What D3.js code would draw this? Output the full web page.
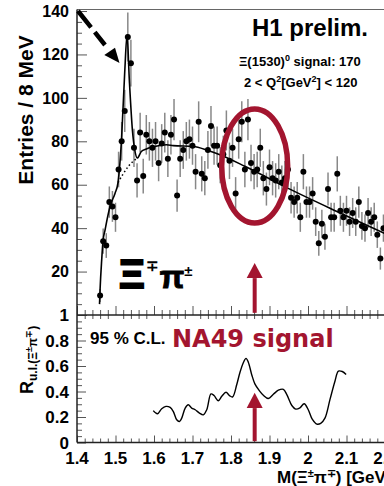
<!DOCTYPE html>
<html><head><meta charset="utf-8">
<script src="https://cdn.jsdelivr.net/npm/d3@7"></script>
<style>
body{margin:0;background:#fff}
svg{display:block}
text{font-family:"Liberation Sans",Arial,Helvetica,sans-serif;font-weight:bold}
</style></head><body>
<svg id="c" width="384" height="486"></svg>
<script>
// ---------- data ----------
const binMass = [1.460,1.468,1.476,1.484,1.492,1.500,1.508,1.516,1.524,1.532,
1.540,1.548,1.556,1.564,1.572,1.580,1.588,1.596,1.604,1.612,
1.620,1.628,1.636,1.644,1.652,1.660,1.668,1.676,1.684,1.692,
1.700,1.708,1.716,1.724,1.732,1.740,1.748,1.756,1.764,1.772,
1.780,1.788,1.796,1.804,1.812,1.820,1.828,1.836,1.844,1.852,
1.860,1.868,1.876,1.884,1.892,1.900,1.908,1.916,1.924,1.932,
1.940,1.948,1.956,1.964,1.972,1.980,1.988,1.996,2.004,2.012,
2.020,2.028,2.036,2.044,2.052,2.060,2.068,2.076,2.084,2.092,
2.100,2.108,2.116,2.124,2.132,2.140,2.148,2.156,2.164,2.172,
2.180,2.188,2.196];
const entries = [9,34,32,52,50,45,67,80,94,128,
116,77,62,84,64,83,80,77,80,70,
79,84,72,83,90,55,72,76,80,81,
78,66,89,65,63,76,87,78,78,69,
74,85,71,77,56,81,89,67,90,70,
66,67,77,63,58,68,63,62,66,61,
63,67,54,52,54,45,66,52,52,56,
43,33,42,36,58,45,45,65,48,45,
48,43,47,43,52,41,40,47,43,45,
37,26,40];
const entryErr = [3.0,5.8,5.7,7.2,7.1,6.7,8.2,8.9,9.7,11.3,
10.8,8.8,7.9,9.2,8.0,9.1,8.9,8.8,8.9,8.4,
8.9,9.2,8.5,9.1,9.5,7.4,8.5,8.7,8.9,9.0,
8.8,8.1,9.4,8.1,7.9,8.7,9.3,8.8,8.8,8.3,
8.6,9.2,8.4,8.8,7.5,9.0,9.4,8.2,9.5,8.4,
8.1,8.2,8.8,7.9,7.6,8.2,7.9,7.9,8.1,7.8,
7.9,8.2,7.3,7.2,7.3,6.7,8.1,7.2,7.2,7.5,
6.6,5.7,6.5,6.0,7.6,6.7,6.7,8.1,6.9,6.7,
6.9,6.6,6.9,6.6,7.2,6.4,6.3,6.9,6.6,6.7,
6.1,5.1,6.3];

// fit: signal + background (solid), background under the peak (dotted)
const fitMass = [1.4585,1.4600,1.4642,1.4675,1.4727,1.4805,1.4857,1.4987,1.5065,1.5160,1.5240,1.5300,1.5360,1.5440,1.5500,1.5566,1.5670,1.5800,1.6020,1.6320,1.6500,1.7020,1.7370,1.7710,1.8360,1.9500,2.0750,2.2000];
const fitVal  = [5,12,25.5,34,39,46,50,56,61,82,112,129,108,85,76,72.3,75.3,76.5,77.6,78.4,78,77.6,76,73.8,68.5,58.2,47.7,37.5];
const bgMass = [1.5065,1.5200,1.5350,1.5566];
const bgVal  = [61,65,68.8,72.3];

// upper limit curve (lower panel)
const ulMass = [1.598,1.609,1.620,1.631,1.642,1.650,1.659,1.666,1.672,1.681,1.689,1.698,1.707,1.718,1.728,1.737,1.748,1.756,1.767,1.776,1.787,1.796,1.804,1.815,1.823,1.832,1.839,1.845,1.854,1.862,1.874,1.884,1.897,1.910,1.923,1.936,1.945,1.958,1.968,1.979,1.990,2.001,2.011,2.023,2.033,2.044,2.057,2.070,2.079,2.089,2.099];
const ulVal  = [0.25,0.225,0.265,0.283,0.275,0.244,0.178,0.165,0.191,0.27,0.296,0.27,0.257,0.231,0.217,0.257,0.381,0.368,0.328,0.362,0.394,0.368,0.357,0.455,0.547,0.626,0.66,0.63,0.53,0.46,0.405,0.37,0.345,0.378,0.41,0.417,0.375,0.29,0.262,0.272,0.304,0.255,0.183,0.144,0.15,0.191,0.336,0.48,0.56,0.557,0.534];

// ticks
const topMajor = [0,20,40,60,80,100,120,140];
const topMinor = [5,10,15,25,30,35,45,50,55,65,70,75,85,90,95,105,110,115,125,130,135];
const botMajor = [0,0.2,0.4,0.6,0.8,1];
const botLabels = ["0","0.2","0.4","0.6","0.8","1"];
const botMinor = [0.05,0.1,0.15,0.25,0.3,0.35,0.45,0.5,0.55,0.65,0.7,0.75,0.85,0.9,0.95];
const xMajor = [1.4,1.5,1.6,1.7,1.8,1.9,2.0,2.1,2.2];
const xLabels = ["1.4","1.5","1.6","1.7","1.8","1.9","2","2.1","2.2"];
const xMinor = [1.42,1.44,1.46,1.48,1.52,1.54,1.56,1.58,1.62,1.64,1.66,1.68,1.72,1.74,1.76,1.78,1.82,1.84,1.86,1.88,1.92,1.94,1.96,1.98,2.02,2.04,2.06,2.08,2.12,2.14,2.16,2.18];

// ---------- drawing ----------
const RED = "#a3152f";
const svg = d3.select("#c");
svg.append("rect").attr("width",384).attr("height",486).attr("fill","#fff");

const x = d3.scaleLinear().domain([1.4,2.2]).range([77,385]);
const yT = d3.scaleLinear().domain([0,140.7]).range([315,9.5]);
const yB = d3.scaleLinear().domain([0,1]).range([442.5,315]);

function tickAxis(g, axis){ g.call(axis); g.select(".domain").remove(); g.selectAll("text").remove(); g.selectAll("line").attr("stroke","#555").attr("stroke-width",1); }

// top panel frame
svg.append("line").attr("x1",77).attr("x2",385).attr("y1",9.5).attr("y2",9.5).attr("stroke","#666").attr("stroke-width",1);
// top panel axes ticks
tickAxis(svg.append("g").attr("transform","translate(77,0)"), d3.axisLeft(yT).tickValues(topMajor).tickSize(-10));
tickAxis(svg.append("g").attr("transform","translate(77,0)"), d3.axisLeft(yT).tickValues(topMinor).tickSize(-5));
tickAxis(svg.append("g").attr("transform","translate(0,315)"), d3.axisBottom(x).tickValues(xMajor).tickSize(-9));
tickAxis(svg.append("g").attr("transform","translate(0,315)"), d3.axisBottom(x).tickValues(xMinor).tickSize(-5));
// bottom panel axes ticks
tickAxis(svg.append("g").attr("transform","translate(77,0)"), d3.axisLeft(yB).tickValues(botMajor).tickSize(-9));
tickAxis(svg.append("g").attr("transform","translate(77,0)"), d3.axisLeft(yB).tickValues(botMinor).tickSize(-5));
tickAxis(svg.append("g").attr("transform","translate(0,442.5)"), d3.axisBottom(x).tickValues(xMajor).tickSize(-7));
tickAxis(svg.append("g").attr("transform","translate(0,442.5)"), d3.axisBottom(x).tickValues(xMinor).tickSize(-4));
tickAxis(svg.append("g").attr("transform","translate(0,315)"), d3.axisBottom(x).tickValues(xMinor).tickSize(4));

// axis lines
svg.append("line").attr("x1",77).attr("x2",77).attr("y1",9.5).attr("y2",442.5).attr("stroke","#222").attr("stroke-width",1.5);
svg.append("line").attr("x1",77).attr("x2",385).attr("y1",315).attr("y2",315).attr("stroke","#222").attr("stroke-width",1.5);
svg.append("line").attr("x1",77).attr("x2",385).attr("y1",442.5).attr("y2",442.5).attr("stroke","#222").attr("stroke-width",1.5);

// tick labels
svg.append("g").selectAll("text").data(topMajor.slice(1)).join("text")
  .attr("x",69).attr("y",d=>yT(d)).attr("dy","0.36em").attr("text-anchor","end")
  .attr("font-size",16).text(d=>d);
svg.append("g").selectAll("text").data(botMajor).join("text")
  .attr("x",69).attr("y",d=>yB(d)).attr("dy","0.36em").attr("text-anchor","end")
  .attr("font-size",17).text((d,i)=>botLabels[i]);
svg.append("g").selectAll("text").data(xMajor).join("text")
  .attr("x",d=>x(d)).attr("y",464).attr("text-anchor","middle")
  .attr("font-size",17).text((d,i)=>xLabels[i]);

// axis titles
svg.append("text").attr("transform","translate(33,110) rotate(-90)").attr("text-anchor","middle")
  .attr("font-size",21).text("Entries / 8 MeV");
const rt = svg.append("text").attr("transform","translate(33,394) rotate(-90)").attr("font-size",18);
rt.append("tspan").text("R");
rt.append("tspan").attr("font-size",12).attr("dy",4).text("u.l.(Ξ");
rt.append("tspan").attr("font-size",9).attr("dy",-5).text("±");
rt.append("tspan").attr("font-size",12).attr("dy",5).text("π");
rt.append("tspan").attr("font-size",9).attr("dy",-5).text("∓");
rt.append("tspan").attr("font-size",12).attr("dy",5).text(")");
const xt = svg.append("text").attr("x",277).attr("y",483).attr("font-size",17);
xt.append("tspan").text("M(Ξ");
xt.append("tspan").attr("font-size",11).attr("dy",-6).text("±");
xt.append("tspan").attr("dy",6).text("π");
xt.append("tspan").attr("font-size",11).attr("dy",-6).text("∓");
xt.append("tspan").attr("dy",6).text(") [GeV]");

// data: error bars + points
const pts = binMass.map((m,i)=>({m,v:entries[i],e:entryErr[i]}));
svg.append("g").selectAll("line").data(pts).join("line")
  .attr("x1",d=>x(d.m)).attr("x2",d=>x(d.m))
  .attr("y1",d=>yT(d.v-d.e)).attr("y2",d=>yT(d.v+d.e))
  .attr("stroke","#888").attr("stroke-width",1.5);
// fit curves
const fitLine = d3.line().x(d=>x(d[0])).y(d=>yT(d[1])).curve(d3.curveMonotoneX);
svg.append("path").attr("d",fitLine(fitMass.map((m,i)=>[m,fitVal[i]])))
  .attr("fill","none").attr("stroke","#000").attr("stroke-width",1.6);
svg.append("path").attr("d",fitLine(bgMass.map((m,i)=>[m,bgVal[i]])))
  .attr("fill","none").attr("stroke","#000").attr("stroke-width",1.5).attr("stroke-dasharray","1.5,2.5");
svg.append("g").selectAll("circle").data(pts).join("circle")
  .attr("cx",d=>x(d.m)).attr("cy",d=>yT(d.v)).attr("r",3).attr("fill","#000");

// upper limit curve
const ulLine = d3.line().x(d=>x(d[0])).y(d=>yB(d[1])).curve(d3.curveCatmullRom);
svg.append("path").attr("d",ulLine(ulMass.map((m,i)=>[m,ulVal[i]])))
  .attr("fill","none").attr("stroke","#000").attr("stroke-width",1.4);

// annotations
svg.append("text").attr("x",310).attr("y",36).attr("text-anchor","middle").attr("font-size",24).text("H1 prelim.");
const s1 = svg.append("text").attr("x",239).attr("y",66).attr("font-size",13);
s1.append("tspan").text("Ξ(1530)");
s1.append("tspan").attr("font-size",9).attr("dy",-5).text("0");
s1.append("tspan").attr("dy",5).text(" signal: 170");
const s2 = svg.append("text").attr("x",244).attr("y",87).attr("font-size",13);
s2.append("tspan").text("2 < Q");
s2.append("tspan").attr("font-size",9).attr("dy",-5).text("2");
s2.append("tspan").attr("dy",5).text("[GeV");
s2.append("tspan").attr("font-size",9).attr("dy",-5).text("2");
s2.append("tspan").attr("dy",5).text("] < 120");

// Xi pi label (one text element with tspans so the pieces do not collide)
const xp = svg.append("text").attr("x",119).attr("y",288).attr("font-size",40)
  .attr("stroke","#000").attr("stroke-width",1.5);
xp.append("tspan").attr("stroke-width",2).text("Ξ");
xp.append("tspan").attr("font-size",15).attr("stroke-width",0).attr("dx",1).attr("dy",-17).text("∓");
xp.append("tspan").attr("font-size",32).attr("stroke-width",1).attr("dx",1).attr("dy",17).text("π");
xp.append("tspan").attr("font-size",15).attr("stroke-width",0).attr("dy",-12).text("±");

// dashed arrow
svg.append("line").attr("x1",78).attr("y1",11).attr("x2",105).attr("y2",45)
  .attr("stroke","#000").attr("stroke-width",4.5).attr("stroke-dasharray","21,6");
svg.append("path").attr("d","M104.3,55 L115,47.7 L119.5,63 Z").attr("fill","#000");

// red ellipse and arrows
svg.append("ellipse").attr("cx",x(1.8615)).attr("cy",yT(68.6)).attr("rx",33).attr("ry",57)
  .attr("fill","none").attr("stroke",RED).attr("stroke-width",5.5);
function redArrow(xc, tip, base, bottom){
  svg.append("line").attr("x1",xc).attr("x2",xc).attr("y1",base).attr("y2",bottom).attr("stroke",RED).attr("stroke-width",4);
  svg.append("path").attr("d",`M${xc},${tip} L${xc-8},${base} L${xc+8},${base} Z`).attr("fill",RED);
}
redArrow(x(1.8615), yT(24), yT(17), yT(1));
redArrow(x(1.8615), yB(0.39), yB(0.27), yB(0.01));

svg.append("text").attr("x",90).attr("y",344).attr("font-size",17).text("95 % C.L.");
svg.append("text").attr("x",172).attr("y",347).attr("font-size",24).attr("fill",RED)
  .style("font-family","'DejaVu Sans',sans-serif").text("NA49 signal");
</script>
</body></html>
